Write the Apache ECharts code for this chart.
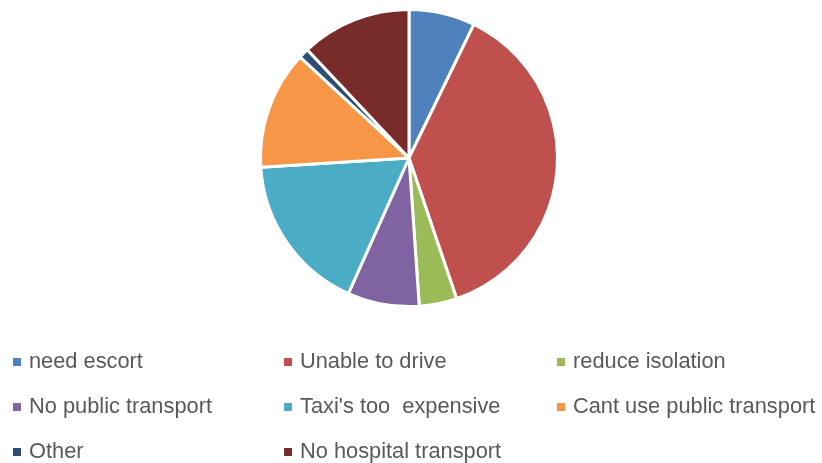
<!DOCTYPE html>
<html>
<head>
<meta charset="utf-8">
<script src="https://cdn.jsdelivr.net/npm/echarts@6/dist/echarts.min.js"></script>
<style>
  html, body { margin: 0; padding: 0; background: #ffffff; }
  #chart { width: 822px; height: 463px; }
</style>
</head>
<body>
<div id="chart"></div>
<script>
// Reasons given for needing transport (share of responses, %)
const categories = [
  'need escort',
  'Unable to drive',
  'reduce isolation',
  'No public transport',
  "Taxi's too  expensive",
  'Cant use public transport',
  'Other',
  'No hospital transport'
];
const values = [7.2, 37.6, 4.1, 7.8, 17.3, 12.9, 1.1, 12.0];
const colors = ['#4F81BD', '#C0504D', '#9BBB59', '#8064A2', '#4BACC6', '#F79646', '#2C4D75', '#772C2A'];

// Legend grid: three columns, three rows
const legendCols = [11, 282, 555];
const legendRows = [362, 407, 452];
const fontSize = 21.8;

const legends = categories.map((name, i) => ({
  data: [name],
  left: legendCols[i % 3],
  top: legendRows[Math.floor(i / 3)] - fontSize / 2,
  padding: 0,
  icon: 'rect',
  itemWidth: 10,
  itemHeight: 10,
  selectedMode: false,
  textStyle: {
    fontFamily: 'Liberation Sans, Arial, sans-serif',
    fontSize: fontSize,
    lineHeight: fontSize,
    color: '#595959',
    padding: [0, 0, 0, 2]
  }
}));

const chart = echarts.init(document.getElementById('chart'), null, { renderer: 'canvas' });
chart.setOption({
  animation: false,
  color: colors,
  legend: legends,
  series: [{
    type: 'pie',
    center: [409, 158],
    radius: [0, 148.5],
    startAngle: 90,
    clockwise: true,
    label: { show: false },
    labelLine: { show: false },
    emphasis: { disabled: true },
    itemStyle: { borderColor: '#ffffff', borderWidth: 3 },
    data: categories.map((name, i) => ({ name: name, value: values[i] }))
  }]
});
</script>
</body>
</html>
